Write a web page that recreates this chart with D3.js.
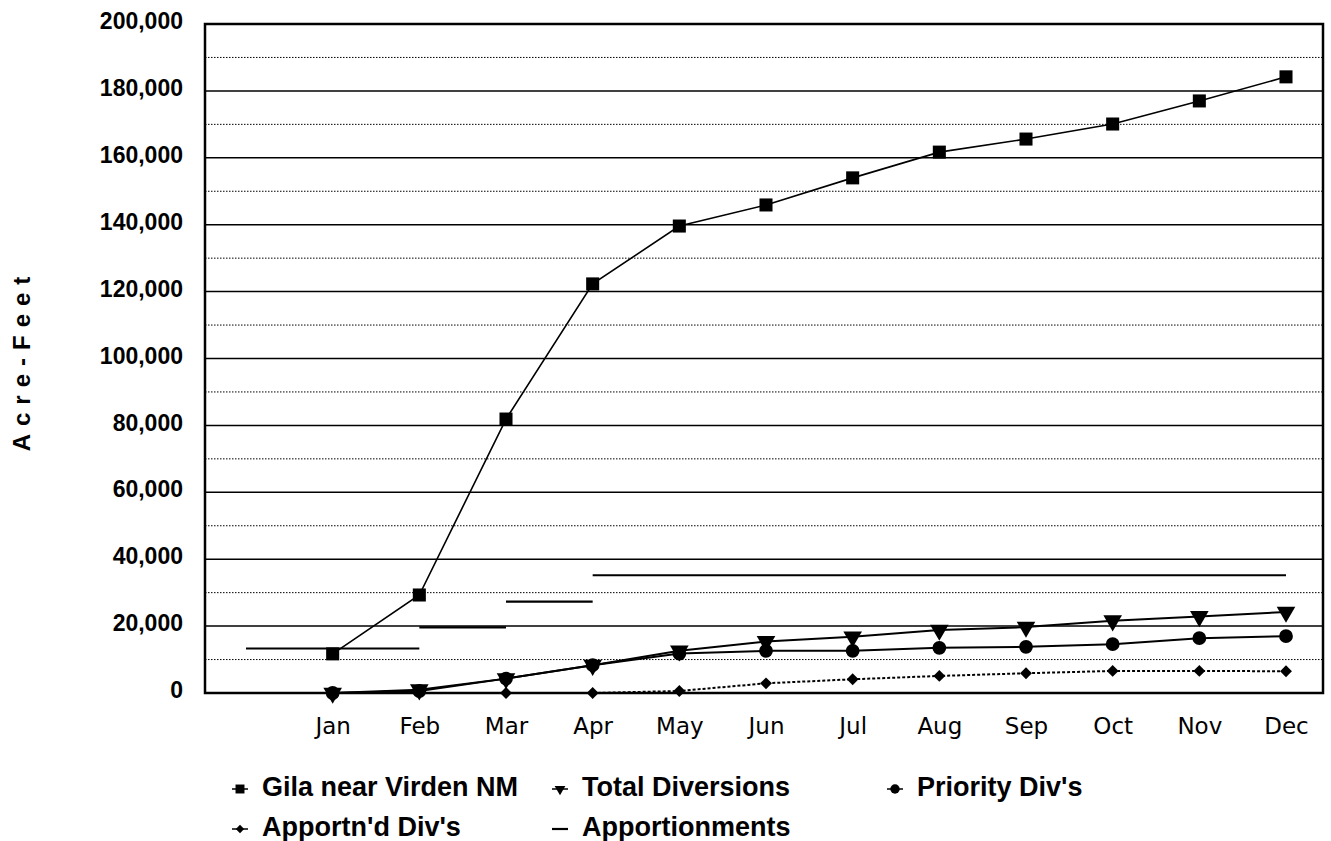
<!DOCTYPE html>
<html>
<head>
<meta charset="utf-8">
<script src="https://cdn.jsdelivr.net/npm/d3@7"></script>
<style>
  body { margin: 0; background: #fff; }
  svg { display: block; }
  .tick-label { font-family: "Liberation Sans", Arial, sans-serif; font-weight: bold; font-size: 23px; }
  .month-label { font-family: "DejaVu Sans", Verdana, sans-serif; font-size: 23px; }
  .legend-label { font-family: "Liberation Sans", Arial, sans-serif; font-weight: bold; font-size: 27px; }
  .axis-title { font-family: "Liberation Sans", Arial, sans-serif; font-weight: bold; font-size: 24px; letter-spacing: 8px; }
</style>
</head>
<body>
<div id="chart"></div>
<script>
"use strict";

// months along the axis, with an empty slot in front of Jan
var months = ["Jan", "Feb", "Mar", "Apr", "May", "Jun", "Jul", "Aug", "Sep", "Oct", "Nov", "Dec"];
var slots = [""].concat(months);

// acre-feet, cumulative
var gila        = [11700, 29300, 81900, 122300, 139600, 145900, 154000, 161700, 165600, 170100, 177000, 184200];
var totalDiv    = [0, 1000, 4300, 8300, 12600, 15400, 16800, 18800, 19700, 21600, 22900, 24200];
var priorityDiv = [0, 600, 4300, 8300, 11800, 12600, 12600, 13500, 13800, 14600, 16400, 17000];
var apportDiv   = [0, 0, 0, 0, 600, 2900, 4100, 5100, 5900, 6600, 6600, 6500];

// apportionments are flat steps between months
var apportFrom  = ["", "Feb", "Mar", "Apr"];
var apportTo    = ["Feb", "Mar", "Apr", "Dec"];
var apportValue = [13300, 19600, 27300, 35200];

var yTicks = [0, 20000, 40000, 60000, 80000, 100000, 120000, 140000, 160000, 180000, 200000];
var yMinor = [10000, 30000, 50000, 70000, 90000, 110000, 130000, 150000, 170000, 190000];

var legendNames = ["Gila near Virden NM", "Total Diversions", "Priority Div's", "Apportn'd Div's", "Apportionments"];

var W = 1331, H = 841;
var plot = { left: 205, right: 1323, top: 24, bottom: 693 };

var svg = d3.select("#chart").append("svg")
    .attr("width", W)
    .attr("height", H);

svg.append("rect").attr("width", W).attr("height", H).attr("fill", "#fff");

var x = d3.scalePoint().domain(slots).range([246, 1286]);
var y = d3.scaleLinear().domain([0, 200000]).range([plot.bottom, plot.top]);

// minor dotted grid
svg.append("g").selectAll("line")
    .data(yMinor)
    .enter().append("line")
    .attr("x1", plot.left).attr("x2", plot.right)
    .attr("y1", function(d){ return y(d); })
    .attr("y2", function(d){ return y(d); })
    .attr("stroke", "#000")
    .attr("stroke-width", 1)
    .attr("stroke-dasharray", "1.5,1.5");

// major solid grid
svg.append("g").selectAll("line")
    .data(yTicks.slice(1, -1))
    .enter().append("line")
    .attr("x1", plot.left).attr("x2", plot.right)
    .attr("y1", function(d){ return y(d); })
    .attr("y2", function(d){ return y(d); })
    .attr("stroke", "#000")
    .attr("stroke-width", 1.5);

// plot frame
svg.append("rect")
    .attr("x", plot.left).attr("y", plot.top)
    .attr("width", plot.right - plot.left)
    .attr("height", plot.bottom - plot.top)
    .attr("fill", "none")
    .attr("stroke", "#000")
    .attr("stroke-width", 2.5);

// y axis labels
var yAxis = d3.axisLeft(y)
    .tickValues(yTicks)
    .tickSize(0)
    .tickPadding(22)
    .tickFormat(d3.format(","));
var ya = svg.append("g")
    .attr("transform", "translate(" + plot.left + ",0)")
    .call(yAxis);
ya.select(".domain").remove();
ya.selectAll("text")
    .attr("class", "tick-label")
    .attr("fill", "#000")
    .attr("dy", "0.2em");

// x axis labels
var xAxis = d3.axisBottom(x).tickValues(months).tickSize(0).tickPadding(25);
var xa = svg.append("g")
    .attr("transform", "translate(0," + plot.bottom + ")")
    .call(xAxis);
xa.select(".domain").remove();
xa.selectAll("text")
    .attr("class", "month-label")
    .attr("fill", "#000");

// y axis title
svg.append("text")
    .attr("class", "axis-title")
    .attr("transform", "translate(30,360) rotate(-90)")
    .attr("text-anchor", "middle")
    .text("Acre-Feet");

// apportionment steps
svg.append("g").selectAll("line")
    .data(apportValue)
    .enter().append("line")
    .attr("x1", function(d, i){ return x(apportFrom[i]); })
    .attr("x2", function(d, i){ return x(apportTo[i]); })
    .attr("y1", function(d){ return y(d); })
    .attr("y2", function(d){ return y(d); })
    .attr("stroke", "#000")
    .attr("stroke-width", 2.2);

var line = d3.line()
    .x(function(d, i){ return x(months[i]); })
    .y(function(d){ return y(d); });

function drawSeries(values, width, dash, symbolType, size, rotate) {
    var g = svg.append("g");
    g.append("path")
        .datum(values)
        .attr("d", line)
        .attr("fill", "none")
        .attr("stroke", "#000")
        .attr("stroke-width", width)
        .attr("stroke-dasharray", dash);
    g.selectAll("path.mark")
        .data(values)
        .enter().append("path")
        .attr("class", "mark")
        .attr("d", d3.symbol().type(symbolType).size(size))
        .attr("transform", function(d, i){
            return "translate(" + x(months[i]) + "," + y(d) + ")" + (rotate ? " rotate(" + rotate + ")" : "");
        })
        .attr("fill", "#000");
}

drawSeries(apportDiv, 2, "3,2", d3.symbolSquare, 70, 45);
drawSeries(priorityDiv, 2, null, d3.symbolCircle, 150, 0);
drawSeries(totalDiv, 2, null, d3.symbolTriangle, 150, 180);
drawSeries(gila, 1.6, null, d3.symbolSquare, 170, 0);

// legend
var legendX = [240, 560, 895, 240, 560];
var legendY = [787, 787, 787, 827, 827];
var legendSym = [d3.symbolSquare, d3.symbolTriangle, d3.symbolCircle, d3.symbolSquare, null];
var legendSize = [80, 50, 70, 35, 0];
var legendRot = [0, 180, 0, 45, 0];

var lg = svg.append("g").selectAll("g")
    .data(legendNames)
    .enter().append("g")
    .attr("transform", function(d, i){ return "translate(" + legendX[i] + "," + legendY[i] + ")"; });

lg.append("line")
    .attr("x1", -8).attr("x2", 8)
    .attr("y1", 2).attr("y2", 2)
    .attr("stroke", "#000")
    .attr("stroke-width", function(d, i){ return i == 4 ? 2.2 : 1.5; });

lg.filter(function(d, i){ return legendSym[i] != null; })
    .append("path")
    .attr("d", function(d){
        var i = legendNames.indexOf(d);
        return d3.symbol().type(legendSym[i]).size(legendSize[i])();
    })
    .attr("transform", function(d){
        var i = legendNames.indexOf(d);
        return "translate(0,2) rotate(" + legendRot[i] + ")";
    })
    .attr("fill", "#000");

lg.append("text")
    .attr("class", "legend-label")
    .attr("x", 22)
    .attr("y", 9)
    .text(function(d){ return d; });
</script>
</body>
</html>
